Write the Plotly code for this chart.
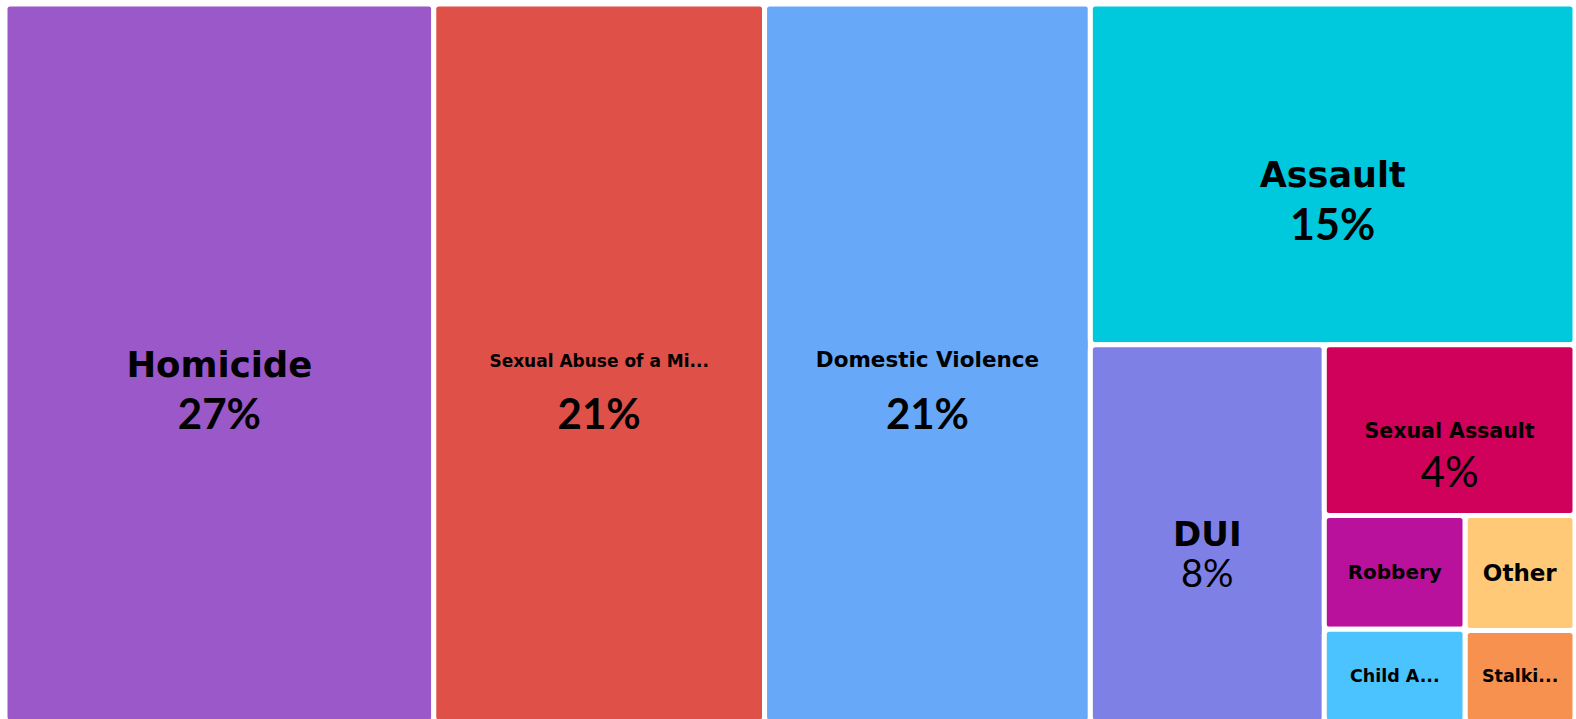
import plotly.graph_objects as go

# ---- data ----
categories = ["Homicide", "Sexual Abuse of a Minor", "Domestic Violence", "Assault", "DUI",
              "Sexual Assault", "Robbery", "Child Abuse", "Other", "Stalking"]
shown_names = ["Homicide", "Sexual Abuse of a Mi...", "Domestic Violence", "Assault", "DUI",
               "Sexual Assault", "Robbery", "Child A...", "Other", "Stalki..."]
shares = [27.31, 21.07, 20.75, 14.65, 7.83, 3.80, 1.42, 1.16, 1.12, 0.89]
show_pct = [True, True, True, True, True, True, False, False, False, False]
root_name = "All offenses"

# ---- styles ----
colors = ["#9a58c9", "#df5148", "#67a8f8", "#00c9dd", "#7f80e6",
          "#d0015a", "#ba119c", "#4ac3ff", "#ffc978", "#f7914f"]
label_size = [35.5, 17, 21.5, 35, 34, 20.5, 20, 17.5, 23, 17.5]
pct_size = [42, 42, 42, 43, 38, 42, 0, 0, 0, 0]
pct_weight = [700, 700, 700, 700, 400, 400, 400, 400, 400, 400]
line_size = [40, 47, 47, 40.8, 31.5, 37.7, 20, 17.5, 23, 17.5]
blank_size = [36.5, 18.2, 18.2, 35.7, 34.3, 24.8, 0, 0, 0, 0]

LABEL_FONT = "DejaVu Sans"
PCT_FONT = "Lato"

templates = [""]
for i in range(len(categories)):
    lab = ("<span style='font-family:%s;font-size:%.1fpx;font-weight:700'>%%{customdata}</span>"
           % (LABEL_FONT, label_size[i]))
    if show_pct[i]:
        pct = ("<span style='font-family:%s;font-size:%.1fpx;font-weight:%d'>%%{percentRoot:.0%%}</span>"
               % (PCT_FONT, pct_size[i], pct_weight[i]))
        blank = ("<span style='font-family:%s;font-size:%.1fpx;color:rgba(0,0,0,0)'>.</span>"
                 % (PCT_FONT, blank_size[i]))
        templates.append(blank + "<br>" + lab + "<br>" + pct)
    else:
        templates.append(lab)

labels = [root_name] + categories
parents = [""] + [root_name] * len(categories)
values = [sum(shares)] + shares

fig = go.Figure(go.Treemap(
    labels=labels,
    parents=parents,
    values=values,
    branchvalues="total",
    customdata=[""] + shown_names,
    texttemplate=templates,
    textposition="middle center",
    textfont=dict(size=[10] + line_size, color="#000000", family=LABEL_FONT),
    marker=dict(colors=["#ffffff"] + colors,
                line=dict(width=[0] + [5] * len(categories), color="#ffffff"),
                cornerradius=5, pad=dict(t=0, l=0, r=0, b=0)),
    tiling=dict(packing="binary", pad=0),
    pathbar=dict(visible=False),
    sort=True,
    hoverinfo="skip",
))

fig.update_layout(
    width=1576, height=722,
    margin=dict(l=4.5, r=0.5, t=3.5, b=0),
    paper_bgcolor="#ffffff",
    plot_bgcolor="#ffffff",
    showlegend=False,
)

fig.write_html("out.html",
               config={"displayModeBar": False},
               post_script="document.body.style.margin='0';document.body.style.overflow='hidden';")
